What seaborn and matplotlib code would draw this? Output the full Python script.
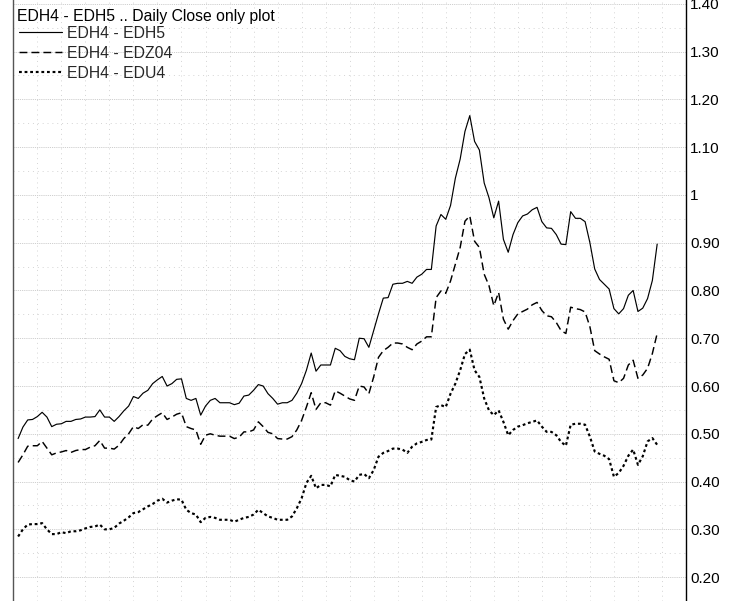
import numpy as np
import pandas as pd
import matplotlib
matplotlib.use("Agg")
import matplotlib.pyplot as plt
from matplotlib.ticker import FixedLocator, MultipleLocator
import seaborn as sns

title = "EDH4 - EDH5 .. Daily Close only plot"
series_names = ["EDH4 - EDH5", "EDH4 - EDZ04", "EDH4 - EDU4"]

edh5 = [0.490, 0.514, 0.529, 0.530, 0.536, 0.545, 0.535, 0.515, 0.520, 0.521,
        0.526, 0.526, 0.530, 0.531, 0.535, 0.535, 0.536, 0.550, 0.535, 0.535,
        0.526, 0.536, 0.548, 0.558, 0.578, 0.574, 0.585, 0.591, 0.605, 0.613,
        0.620, 0.600, 0.605, 0.614, 0.615, 0.574, 0.570, 0.574, 0.539, 0.558,
        0.570, 0.574, 0.565, 0.565, 0.565, 0.561, 0.564, 0.579, 0.581, 0.591,
        0.603, 0.600, 0.584, 0.574, 0.562, 0.565, 0.565, 0.570, 0.585, 0.605,
        0.633, 0.669, 0.631, 0.644, 0.644, 0.644, 0.679, 0.674, 0.662, 0.657,
        0.655, 0.700, 0.699, 0.681, 0.716, 0.751, 0.784, 0.785, 0.813, 0.815,
        0.815, 0.819, 0.815, 0.828, 0.834, 0.844, 0.844, 0.935, 0.959, 0.949,
        0.978, 1.035, 1.075, 1.133, 1.166, 1.112, 1.094, 1.025, 0.994, 0.952,
        0.987, 0.907, 0.880, 0.917, 0.942, 0.956, 0.960, 0.969, 0.974, 0.944,
        0.931, 0.930, 0.917, 0.897, 0.896, 0.965, 0.951, 0.951, 0.944, 0.900,
        0.845, 0.823, 0.813, 0.803, 0.762, 0.751, 0.762, 0.790, 0.800, 0.756,
        0.763, 0.783, 0.821, 0.897]

edz04 = [0.440, 0.456, 0.474, 0.475, 0.475, 0.484, 0.470, 0.456, 0.460, 0.462,
         0.465, 0.461, 0.465, 0.467, 0.467, 0.472, 0.475, 0.486, 0.470, 0.470,
         0.468, 0.476, 0.490, 0.500, 0.515, 0.511, 0.519, 0.518, 0.531, 0.538,
         0.544, 0.530, 0.535, 0.541, 0.544, 0.515, 0.511, 0.508, 0.478, 0.497,
         0.500, 0.497, 0.495, 0.495, 0.495, 0.490, 0.493, 0.504, 0.504, 0.508,
         0.525, 0.515, 0.503, 0.500, 0.490, 0.489, 0.489, 0.494, 0.508, 0.528,
         0.556, 0.586, 0.551, 0.565, 0.565, 0.560, 0.590, 0.585, 0.579, 0.573,
         0.570, 0.600, 0.598, 0.584, 0.619, 0.660, 0.674, 0.681, 0.690, 0.690,
         0.688, 0.681, 0.676, 0.688, 0.694, 0.703, 0.703, 0.785, 0.799, 0.794,
         0.820, 0.855, 0.890, 0.945, 0.956, 0.903, 0.890, 0.834, 0.810, 0.768,
         0.796, 0.740, 0.719, 0.737, 0.751, 0.756, 0.761, 0.770, 0.775, 0.758,
         0.747, 0.745, 0.733, 0.716, 0.710, 0.765, 0.762, 0.760, 0.755, 0.724,
         0.674, 0.667, 0.661, 0.656, 0.611, 0.607, 0.616, 0.644, 0.654, 0.616,
         0.623, 0.637, 0.668, 0.710]

edu4 = [0.285, 0.300, 0.310, 0.311, 0.311, 0.313, 0.300, 0.290, 0.290, 0.294,
        0.292, 0.296, 0.296, 0.298, 0.302, 0.305, 0.306, 0.310, 0.300, 0.300,
        0.303, 0.312, 0.318, 0.325, 0.334, 0.336, 0.342, 0.348, 0.353, 0.360,
        0.364, 0.356, 0.360, 0.363, 0.362, 0.341, 0.334, 0.331, 0.315, 0.324,
        0.326, 0.324, 0.320, 0.320, 0.320, 0.316, 0.320, 0.324, 0.326, 0.331,
        0.341, 0.334, 0.327, 0.324, 0.320, 0.320, 0.320, 0.327, 0.344, 0.365,
        0.397, 0.412, 0.386, 0.393, 0.393, 0.390, 0.414, 0.412, 0.410, 0.403,
        0.400, 0.414, 0.416, 0.407, 0.424, 0.452, 0.460, 0.464, 0.469, 0.469,
        0.467, 0.460, 0.473, 0.480, 0.483, 0.487, 0.488, 0.556, 0.560, 0.556,
        0.584, 0.605, 0.633, 0.667, 0.676, 0.633, 0.619, 0.574, 0.549, 0.539,
        0.549, 0.525, 0.497, 0.508, 0.515, 0.518, 0.522, 0.525, 0.528, 0.515,
        0.504, 0.504, 0.497, 0.483, 0.475, 0.519, 0.521, 0.521, 0.519, 0.494,
        0.463, 0.458, 0.454, 0.447, 0.410, 0.418, 0.433, 0.454, 0.467, 0.435,
        0.453, 0.484, 0.491, 0.477]

days = list(range(1, len(edh5) + 1))

ytick_values = [0.20, 0.30, 0.40, 0.50, 0.60, 0.70, 0.80, 0.90, 1.00, 1.10, 1.20, 1.30, 1.40]
ytick_labels = ["0.20", "0.30", "0.40", "0.50", "0.60", "0.70", "0.80", "0.90", "1",
                "1.10", "1.20", "1.30", "1.40"]

sns.set_style("white")
plt.rcParams["font.family"] = ["Liberation Sans", "DejaVu Sans"]

W, H = 733, 601
fig = plt.figure(figsize=(W / 100, H / 100), dpi=100)
x0, x1 = 13.3, 686.0
ax = fig.add_axes([x0 / W, 0.0, (x1 - x0) / W, 1.0])

styles = [
    dict(lw=0.85, linestyle="-"),
    dict(lw=1.05, linestyle=(0, (5.4, 2.8))),
    dict(lw=1.55, linestyle=(0, (1.3, 1.3))),
]
for name, vals, st in zip(series_names, [edh5, edz04, edu4], styles):
    df = pd.DataFrame({"day": days, "spread": vals})
    sns.lineplot(data=df, x="day", y="spread", ax=ax, color="black",
                 label=name, legend=False, **st)

ax.set_xlim(0, 140)
ax.set_ylim(0.150, 1.408)

ax.yaxis.tick_right()
ax.yaxis.set_major_locator(FixedLocator(ytick_values))
ax.set_yticklabels(ytick_labels)
ax.yaxis.set_minor_locator(FixedLocator([v + 0.05 for v in ytick_values[:-1]]))
ax.xaxis.set_major_locator(MultipleLocator(5))
ax.set_xticklabels([])
ax.tick_params(axis="y", which="both", length=0, pad=3, labelsize=11, colors="black")
ax.tick_params(axis="x", which="both", length=0)
ax.set_xlabel("")
ax.set_ylabel("")

ax.grid(True, axis="y", which="major", color="#cfcfcf", lw=0.7, linestyle=(0, (1.2, 1.0)))
ax.grid(True, axis="y", which="minor", color="#d4d4d4", lw=0.7, linestyle=(0, (1, 4)))
ax.grid(True, axis="x", which="major", color="#d4d4d4", lw=0.7, linestyle=(0, (1, 4)))

for side in ["top", "bottom"]:
    ax.spines[side].set_visible(False)
ax.spines["left"].set_color("#555555")
ax.spines["left"].set_linewidth(1.0)
ax.spines["right"].set_color("black")
ax.spines["right"].set_linewidth(1.0)

ax.text(4.0 / (x1 - x0), 1 - 9.5 / H, title, transform=ax.transAxes,
        fontsize=11.3, ha="left", va="top", color="black")

handles = ax.get_lines()[:3]
leg = ax.legend(handles, series_names, loc="upper left",
                bbox_to_anchor=(5.5 / (x1 - x0), 1 - 25.5 / H), frameon=False,
                fontsize=11.3, handlelength=2.75, handletextpad=0.3,
                labelspacing=0.33, borderpad=0, borderaxespad=0)

fig.savefig("out.png", dpi=100)
